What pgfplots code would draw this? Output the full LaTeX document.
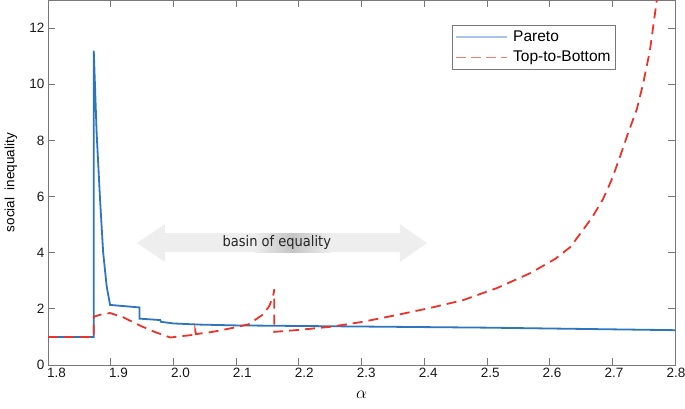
\documentclass[border=0pt]{standalone}
\usepackage{pgfplots}
\pgfplotsset{compat=1.18}
\usepackage{fontspec}
\setmainfont{Liberation Sans}
\newfontfamily\annfont{DejaVu Sans Condensed}
\definecolor{pblue}{RGB}{46,117,192}
\definecolor{pred}{RGB}{232,52,42}
\definecolor{lblue}{RGB}{165,198,232}
\definecolor{lred}{RGB}{240,125,115}
\definecolor{axgray}{RGB}{120,120,120}
\definecolor{arrowgray}{RGB}{238,238,238}
\definecolor{arrowdark}{RGB}{196,196,196}
\begin{document}
\begin{tikzpicture}
\begin{axis}[
 scale only axis, width=627bp, height=365bp,
 xmin=1.8,xmax=2.8,ymin=0,ymax=13,
 xtick={1.8,1.9,2.0,2.1,2.2,2.3,2.4,2.5,2.6,2.7,2.8},
 ytick={0,2,4,6,8,10,12},
 xticklabel style={xshift={8.5bp-0.75bp*\ticknum}, /pgf/number format/.cd,fixed,fixed zerofill,precision=1},
 /pgf/number format/assume math mode=true,
 tick align=inside, major tick length=7bp,
 axis line style={draw=axgray,line width=0.7bp},
 tick style={draw=axgray,line width=0.7bp},
 tick label style={font=\fontsize{13.5bp}{16bp}\selectfont, text=black!90},
 xlabel={$\alpha$}, ylabel={social\ \ inequality},
 xlabel style={at={(axis description cs:0.5,-0.082)},anchor=center,font=\fontsize{17bp}{18bp}\selectfont},
 ylabel style={at={(axis description cs:-0.059,0.5)},anchor=center,font=\fontsize{13.5bp}{16bp}\selectfont},
 legend style={at={(axis description cs:0.9055,0.9315)}, anchor=north east, draw=axgray,
   font=\fontsize{15.5bp}{17bp}\selectfont, inner xsep=3bp, inner ysep=4bp, row sep=4bp, column sep=3bp, fill=white},
 legend cell align=left,
]
% annotation arrow
\fill[arrowgray] (axis cs:1.942,4.34) -- (axis cs:1.9866,5.02) -- (axis cs:1.9866,4.70) -- (axis cs:2.361,4.70) -- (axis cs:2.361,5.02) -- (axis cs:2.4045,4.34) -- (axis cs:2.361,3.67) -- (axis cs:2.361,4.02) -- (axis cs:1.9866,4.02) -- (axis cs:1.9866,3.67) -- cycle;
\shade[left color=arrowgray,right color=arrowgray,middle color=arrowdark] (axis cs:2.13,4.02) rectangle (axis cs:2.25,4.70);
\node[font=\annfont\fontsize{14.5bp}{16bp}\selectfont, text=black!85] at (axis cs:2.165,4.38) {basin of equality};

\addplot[pblue, line width=1.8bp, forget plot] coordinates {
(1.8,1) (1.873,1) (1.873,11.2) (1.8776,8.25) (1.883,5.9) (1.888,4.0) (1.8936,2.8) (1.899,2.14)
(1.92,2.1) (1.946,2.05) (1.946,1.65) (1.96,1.63) (1.979,1.6) (1.98,1.54) (2.0,1.48) (2.04,1.44)
(2.1,1.41) (2.2,1.39) (2.3,1.37) (2.4,1.35) (2.5,1.33) (2.6,1.3) (2.7,1.27) (2.8,1.24)};
\addplot[pred, line width=1.8bp, dash pattern=on 10bp off 6bp, forget plot] coordinates {
(1.8,1) (1.873,1) (1.873,1.72) (1.885,1.8) (1.899,1.85) (1.92,1.7) (1.947,1.4) (1.97,1.18)
(1.995,0.98) (2.01,1.02) (2.035,1.08) (2.035,1.2) (2.036,1.1) (2.06,1.17) (2.09,1.3) (2.12,1.45)
(2.143,1.8) (2.153,2.1) (2.159,2.45) (2.161,2.7) (2.161,1.18) (2.2,1.25) (2.25,1.36) (2.3,1.53)
(2.356,1.78) (2.409,2.03) (2.462,2.31) (2.516,2.74) (2.569,3.27) (2.609,3.78) (2.633,4.2)
(2.653,4.8) (2.669,5.3) (2.685,5.9) (2.699,6.6) (2.712,7.4) (2.725,8.25) (2.739,9.1)
(2.749,10.0) (2.760,11.2) (2.771,13.0) (2.78,14.5)};
\addlegendimage{legend image code/.code={\draw[line width=1.7bp, draw=lblue] (0bp,0bp) -- (51bp,0bp);}}
\addlegendentry{Pareto}
\addlegendimage{legend image code/.code={\draw[line width=1.7bp, draw=lred, dash pattern=on 10bp off 5bp] (0bp,0bp) -- (51bp,0bp);}}
\addlegendentry{Top-to-Bottom}
\end{axis}
\pgfresetboundingbox
\path (-48bp,-44bp) rectangle (637bp,365bp);
\end{tikzpicture}
\end{document}
